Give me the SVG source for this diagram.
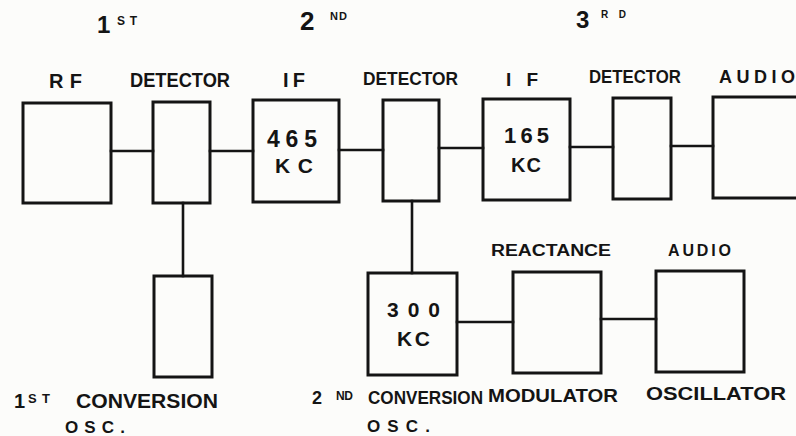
<svg xmlns="http://www.w3.org/2000/svg" width="796" height="436" viewBox="0 0 796 436">
<style>
.box{fill:none;stroke:#141414;stroke-width:3}
.wire{fill:none;stroke:#141414;stroke-width:2.6;stroke-linecap:square}
text{font-family:"Liberation Sans","DejaVu Sans",sans-serif;font-weight:bold;fill:#141414}
</style>
<rect width="796" height="436" fill="#fcfcfa"/>
<g id="stage-labels">
<text x="97" y="33" font-size="24">1<tspan x="117" y="25" font-size="12" textLength="20" lengthAdjust="spacing">ST</tspan></text>
<text x="300" y="30" font-size="26">2<tspan x="330" y="20" font-size="11" textLength="17" lengthAdjust="spacing">ND</tspan></text>
<text x="576" y="28" font-size="24">3<tspan x="601" y="18" font-size="10" textLength="25" lengthAdjust="spacing">RD</tspan></text>
</g>
<g id="rf">
<rect class="box" x="23" y="103" width="88" height="100"/>
<text x="49" y="88" font-size="20" textLength="33" lengthAdjust="spacing">RF</text>
</g>
<g id="det1">
<rect class="box" x="153" y="102" width="57" height="101"/>
<text x="130" y="87" font-size="20" textLength="100" lengthAdjust="spacingAndGlyphs">DETECTOR</text>
</g>
<g id="if1">
<rect class="box" x="253" y="100" width="86" height="102"/>
<text x="283" y="87" font-size="20" textLength="22" lengthAdjust="spacing">IF</text>
<text x="267" y="147" font-size="23" textLength="50" lengthAdjust="spacing">465</text>
<text x="275" y="173" font-size="21" textLength="38" lengthAdjust="spacing">KC</text>
</g>
<g id="det2">
<rect class="box" x="383" y="100" width="56" height="101"/>
<text x="363" y="85" font-size="18" textLength="95" lengthAdjust="spacingAndGlyphs">DETECTOR</text>
</g>
<g id="if2">
<rect class="box" x="483" y="99" width="87" height="101"/>
<text x="506" y="86" font-size="19" textLength="32" lengthAdjust="spacing">IF</text>
<text x="504" y="143" font-size="22" textLength="45" lengthAdjust="spacing">165</text>
<text x="511" y="172" font-size="20" textLength="30" lengthAdjust="spacing">KC</text>
</g>
<g id="det3">
<rect class="box" x="613" y="98" width="58" height="101"/>
<text x="589" y="83" font-size="18" textLength="92" lengthAdjust="spacingAndGlyphs">DETECTOR</text>
</g>
<g id="audio-amp">
<rect class="box" x="713" y="97" width="100" height="101"/>
<text x="719" y="83" font-size="18" textLength="76" lengthAdjust="spacing">AUDIO</text>
</g>
<g id="osc1">
<rect class="box" x="154" y="276" width="58" height="101"/>
<text x="14" y="408" font-size="20">1<tspan x="28" y="403" font-size="13" textLength="22" lengthAdjust="spacing">ST</tspan><tspan x="76" y="408" textLength="142" lengthAdjust="spacingAndGlyphs">CONVERSION</tspan></text>
<text x="65" y="433" font-size="17" textLength="60" lengthAdjust="spacing">OSC.</text>
</g>
<g id="osc2">
<rect class="box" x="368" y="273" width="89" height="102"/>
<text x="387" y="317" font-size="21" textLength="53" lengthAdjust="spacing">300</text>
<text x="397" y="346" font-size="21" textLength="33" lengthAdjust="spacing">KC</text>
<text x="312" y="404" font-size="18">2<tspan x="336" y="400" font-size="12" textLength="17" lengthAdjust="spacing">ND</tspan><tspan x="368" y="404" textLength="115" lengthAdjust="spacingAndGlyphs">CONVERSION</tspan></text>
<text x="367" y="432" font-size="17" textLength="63" lengthAdjust="spacing">OSC.</text>
</g>
<g id="reactance-mod">
<rect class="box" x="513" y="272" width="88" height="101"/>
<text x="491" y="256" font-size="16" textLength="120" lengthAdjust="spacingAndGlyphs">REACTANCE</text>
<text x="488" y="402" font-size="19" textLength="130" lengthAdjust="spacingAndGlyphs">MODULATOR</text>
</g>
<g id="audio-osc">
<rect class="box" x="656" y="271" width="88" height="101"/>
<text x="668" y="256" font-size="16" textLength="63" lengthAdjust="spacing">AUDIO</text>
<text x="646" y="400" font-size="18" textLength="140" lengthAdjust="spacingAndGlyphs">OSCILLATOR</text>
</g>
<g id="connectors">
<line class="wire" x1="111" y1="151" x2="153" y2="151"/>
<line class="wire" x1="210" y1="151" x2="253" y2="151"/>
<line class="wire" x1="339" y1="150" x2="383" y2="150"/>
<line class="wire" x1="439" y1="148" x2="483" y2="148"/>
<line class="wire" x1="570" y1="147" x2="613" y2="147"/>
<line class="wire" x1="671" y1="146" x2="713" y2="146"/>
<line class="wire" x1="183" y1="203" x2="183" y2="276"/>
<line class="wire" x1="412" y1="201" x2="412" y2="273"/>
<line class="wire" x1="457" y1="322" x2="513" y2="322"/>
<line class="wire" x1="601" y1="319" x2="656" y2="319"/>
</g>
</svg>
